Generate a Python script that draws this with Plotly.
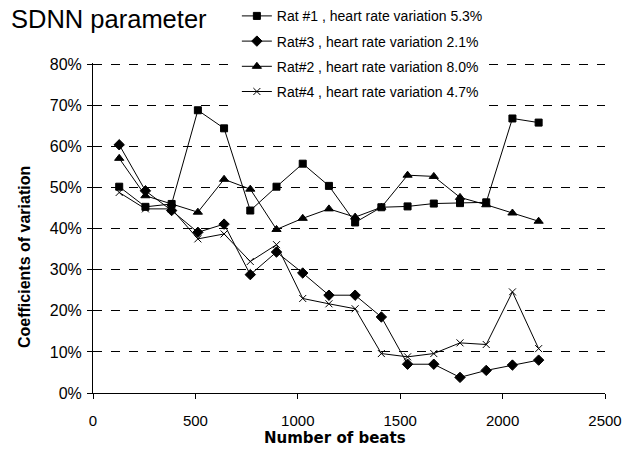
import plotly.graph_objects as go

beats = [128, 256, 384, 512, 640, 768, 896, 1024, 1152, 1280, 1408, 1536, 1664, 1792, 1920, 2048, 2176]

rat1 = [50.2, 45.3, 46.0, 68.8, 64.4, 44.4, 50.2, 55.8, 50.4, 41.5, 45.2, 45.4, 46.1, 46.2, 46.4, 66.8, 65.8]
rat3 = [60.4, 49.2, 44.4, 39.1, 41.1, 28.8, 34.3, 29.2, 23.8, 23.8, 18.5, 7.0, 7.0, 3.8, 5.5, 6.8, 8.0]
rat2 = [57.1, 48.0, 46.0, 44.0, 52.0, 49.6, 39.8, 42.5, 44.8, 42.8, 45.2, 53.0, 52.7, 47.6, 45.8, 43.8, 41.8]
rat4 = [48.8, 44.8, 44.8, 37.5, 38.7, 32.0, 36.1, 23.0, 21.7, 20.5, 9.6, 8.8, 9.6, 12.2, 11.8, 24.6, 10.8]

names = [
    "Rat #1 , heart rate variation 5.3%",
    "Rat#3 , heart rate variation 2.1%",
    "Rat#2 , heart rate variation 8.0%",
    "Rat#4 , heart rate variation 4.7%",
]
series = [rat1, rat3, rat2, rat4]
symbols = ["square", "diamond", "triangle-up", "x-thin"]
sizes = [7, 8, 8, 7]

ytick_vals = [0, 10, 20, 30, 40, 50, 60, 70, 80]
ytick_text = ["0%", "10%", "20%", "30%", "40%", "50%", "60%", "70%", "80%"]
xtick_vals = [0, 500, 1000, 1500, 2000, 2500]

fig = go.Figure()
for i, (name, ys, sym, sz) in enumerate(zip(names, series, symbols, sizes)):
    fig.add_trace(go.Scatter(
        x=beats, y=ys, name=name, mode="lines+markers", legendgroup=f"g{i}",
        line=dict(color="black", width=1),
        marker=dict(symbol=sym, size=sz, color="black",
                    line=dict(color="black", width=1)),
    ))

fig.update_layout(
    width=629, height=449,
    margin=dict(l=93, r=24, t=63, b=56, autoexpand=False),
    paper_bgcolor="white", plot_bgcolor="white",
    font=dict(family="Liberation Sans, Arial, sans-serif", color="black", size=14),
    showlegend=True,
    legend=dict(
        x=0.281, y=1.19, xanchor="left", yanchor="top",
        bgcolor="white", font=dict(size=14),
        tracegroupgap=4, itemwidth=30,
    ),
    annotations=[
        dict(text="SDNN parameter", xref="paper", yref="paper",
             x=-0.165, y=1.182, xanchor="left", yanchor="top",
             showarrow=False, font=dict(size=25.5, color="black")),
        dict(text="<b>Number of beats</b>", xref="paper", yref="paper",
             x=0.4727, y=-0.136, xanchor="center", yanchor="middle",
             showarrow=False,
             font=dict(family="DejaVu Sans, Verdana, sans-serif", size=15, color="black")),
        dict(text="<b>Coefficients of variation</b>", xref="paper", yref="paper",
             x=-0.1348, y=0.412, xanchor="center", yanchor="middle",
             textangle=-90, showarrow=False,
             font=dict(size=16, color="black")),
    ],
)
fig.update_xaxes(
    range=[0, 2500], tickvals=xtick_vals,
    showgrid=False, zeroline=False,
    showline=True, linecolor="black", linewidth=1,
    ticks="outside", ticklen=5, tickcolor="black",
    ticklabelstandoff=9,
    tickfont=dict(size=15),
)
fig.update_yaxes(
    range=[0, 80.3], tickvals=ytick_vals, ticktext=ytick_text,
    showgrid=True, gridcolor="black", gridwidth=1, griddash="dash",
    zeroline=False,
    showline=True, linecolor="black", linewidth=1,
    ticks="outside", ticklen=5, tickcolor="black",
    ticklabelstandoff=2,
    tickfont=dict(size=16),
)

fig.write_html("out.html")
